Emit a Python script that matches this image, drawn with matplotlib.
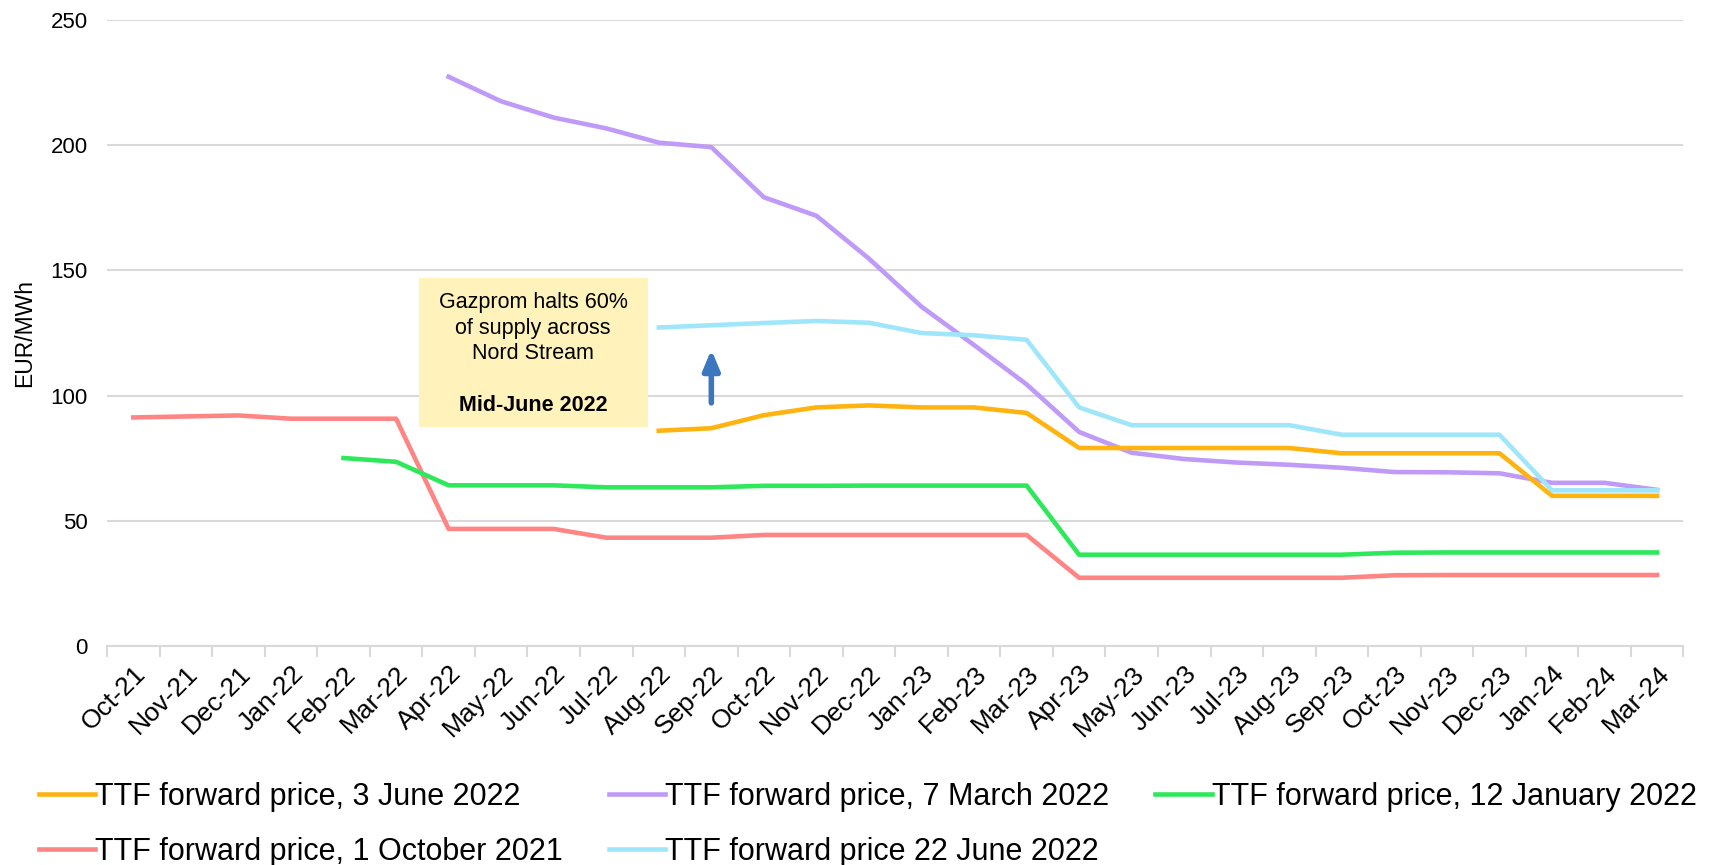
import matplotlib.pyplot as plt
import matplotlib.patches as mpatches
import numpy as np

plt.rcParams['font.family'] = ['Liberation Sans', 'DejaVu Sans']

months = ['Oct-21', 'Nov-21', 'Dec-21', 'Jan-22', 'Feb-22', 'Mar-22', 'Apr-22', 'May-22',
          'Jun-22', 'Jul-22', 'Aug-22', 'Sep-22', 'Oct-22', 'Nov-22', 'Dec-22', 'Jan-23',
          'Feb-23', 'Mar-23', 'Apr-23', 'May-23', 'Jun-23', 'Jul-23', 'Aug-23', 'Sep-23',
          'Oct-23', 'Nov-23', 'Dec-23', 'Jan-24', 'Feb-24', 'Mar-24']

nan = np.nan
# 1 October 2021 curve (Oct-21 .. Mar-24)
oct21 = [91.3, 91.7, 92.1, 90.8, 90.8, 90.8, 46.8, 46.8, 46.8, 43.3, 43.3, 43.3,
         44.4, 44.4, 44.4, 44.4, 44.4, 44.4, 27.3, 27.3, 27.3, 27.3, 27.3, 27.3,
         28.3, 28.4, 28.4, 28.4, 28.4, 28.4]
# 12 January 2022 curve
jan22 = [nan, nan, nan, nan, 75.1, 73.6, 64.2, 64.2, 64.2, 63.4, 63.4, 63.4,
         64.0, 64.0, 64.1, 64.1, 64.1, 64.1, 36.5, 36.5, 36.5, 36.5, 36.5, 36.5,
         37.3, 37.4, 37.4, 37.4, 37.4, 37.4]
# 7 March 2022 curve
mar22 = [nan, nan, nan, nan, nan, nan, 227.3, 217.5, 211.0, 206.7, 201.0, 199.2,
         179.2, 171.8, 154.7, 135.5, 120.2, 104.5, 85.5, 77.2, 74.7, 73.3, 72.4, 71.2,
         69.5, 69.4, 69.0, 65.2, 65.2, 62.4]
# 3 June 2022 curve
jun22 = [nan, nan, nan, nan, nan, nan, nan, nan, nan, nan, 86.0, 87.0,
         92.2, 95.3, 96.1, 95.3, 95.3, 93.1, 79.1, 79.1, 79.1, 79.1, 79.1, 77.0,
         77.0, 77.0, 77.0, 60.0, 60.0, 60.0]
# 22 June 2022 curve
jun22b = [nan, nan, nan, nan, nan, nan, nan, nan, nan, nan, 127.2, 128.1,
          129.0, 129.8, 129.1, 125.0, 124.1, 122.3, 95.3, 88.2, 88.2, 88.2, 88.2, 84.4,
          84.4, 84.4, 84.4, 62.2, 62.2, 62.2]

x = np.arange(len(months))

fig, ax = plt.subplots(figsize=(17.16, 8.65), dpi=100)
fig.subplots_adjust(left=0.0624, right=0.981, top=0.977, bottom=0.253)

l_jun = ax.plot(x, jun22, color='#FFB310', linewidth=3.3, label='TTF forward price, 3 June 2022')[0]
l_mar = ax.plot(x, mar22, color='#BF9BF7', linewidth=3.3, label='TTF forward price, 7 March 2022')[0]
l_jan = ax.plot(x, jan22, color='#2DE85A', linewidth=3.3, label='TTF forward price, 12 January 2022')[0]
l_oct = ax.plot(x, oct21, color='#FF8585', linewidth=3.3, label='TTF forward price, 1 October 2021')[0]
l_jb = ax.plot(x, jun22b, color='#9FE6FB', linewidth=3.3, label='TTF forward price 22 June 2022')[0]
# draw order like the original (red under, light blue on top)
l_oct.set_zorder(2); l_jan.set_zorder(2.1); l_mar.set_zorder(2.2); l_jun.set_zorder(2.3); l_jb.set_zorder(2.4)

ax.set_xlim(-0.5, len(months) - 0.5)
ax.set_ylim(0, 250)
ax.set_yticks(np.arange(0, 251, 50))
ax.grid(axis='y', color='#D9D9D9', linewidth=1.5)
ax.set_axisbelow(True)
for s in ['left', 'right', 'top']:
    ax.spines[s].set_visible(False)
ax.spines['bottom'].set_color('#D9D9D9')
ax.spines['bottom'].set_linewidth(1.5)

ax.set_xticks(x)
ax.set_xticklabels(months, rotation=45, ha='right', rotation_mode='anchor', fontsize=19)
ax.tick_params(axis='x', which='major', length=0, pad=11)
ax.set_xticks(np.arange(-0.5, len(months), 1), minor=True)
ax.tick_params(axis='x', which='minor', length=8, color='#D9D9D9', width=1.5)
ax.tick_params(axis='y', length=0, labelsize=16, pad=14)
ax.set_ylabel('EUR/MWh', fontsize=16.5)
ax.yaxis.set_label_coords(-0.045, 0.5)

# annotation box
ax.add_patch(mpatches.Rectangle((5.43, 87.4), 4.36, 59.4, facecolor='#FFF2BA',
                                edgecolor='none', zorder=3))
ax.text(7.61, 127, 'Gazprom halts 60%\nof supply across\nNord Stream',
        ha='center', va='center', fontsize=15.5, linespacing=1.3, zorder=4)
ax.text(7.61, 96, 'Mid-June 2022', ha='center', va='center', fontsize=15.5,
        fontweight='bold', zorder=4)

ax.annotate('', xy=(11, 119.5), xytext=(11, 96),
            arrowprops=dict(arrowstyle='-|>,head_width=0.5,head_length=1.2',
                            color='#3A77BE', linewidth=4))

handles = [l_jun, l_oct, l_mar, l_jb, l_jan]
fig.legend(handles=handles, labels=[h.get_label() for h in handles], ncol=3,
           loc='upper left', bbox_to_anchor=(0.0225, 0.096), frameon=False,
           fontsize=22, handlelength=1.85, handletextpad=0.0, columnspacing=1.5,
           labelspacing=0.82, borderpad=0, borderaxespad=0)

plt.savefig('out.png', dpi=100)
